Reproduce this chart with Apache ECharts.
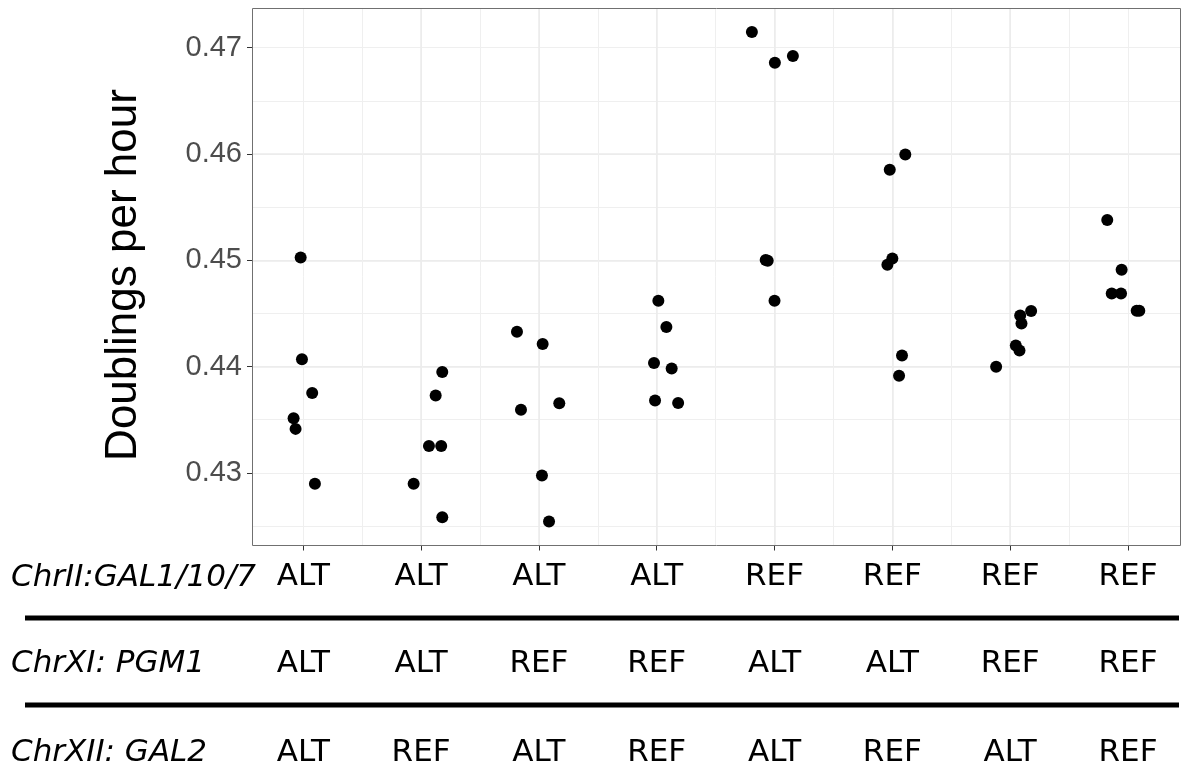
<!DOCTYPE html>
<html><head><meta charset="utf-8">
<script src="https://cdn.jsdelivr.net/npm/echarts@6/dist/echarts.min.js"></script>
<style>html,body{margin:0;padding:0;background:#fff;}#c{width:1182px;height:768px;}</style>
</head><body><div id="c"></div>
<script>
// ---- data ----
const groups = [1, 2, 3, 4, 5, 6, 7, 8];
const rowNames = ['ChrII:GAL1/10/7', 'ChrXI: PGM1', 'ChrXII: GAL2'];
const gal1 = ['ALT', 'ALT', 'ALT', 'ALT', 'REF', 'REF', 'REF', 'REF'];
const pgm1 = ['ALT', 'ALT', 'REF', 'REF', 'ALT', 'ALT', 'REF', 'REF'];
const gal2 = ['ALT', 'REF', 'ALT', 'REF', 'ALT', 'REF', 'ALT', 'REF'];
const yTicks = [0.43, 0.44, 0.45, 0.46, 0.47];
const yTitle = 'Doublings per hour';

const doublings = [
  [0.45026, 0.44068, 0.43752, 0.43513, 0.43414, 0.42897],
  [0.43949, 0.43727, 0.43254, 0.43254, 0.42897, 0.42583],
  [0.44328, 0.44212, 0.43654, 0.43595, 0.42975, 0.42542],
  [0.44620, 0.44372, 0.44034, 0.43983, 0.43682, 0.43658],
  [0.47148, 0.46859, 0.46922, 0.45002, 0.44995, 0.44619],
  [0.45994, 0.45851, 0.45017, 0.44958, 0.44105, 0.43914],
  [0.43999, 0.44199, 0.44152, 0.44481, 0.44406, 0.44523],
  [0.45378, 0.44911, 0.44688, 0.44688, 0.44525, 0.44525]
];
// horizontal jitter (in category units)
const jitterX = [
  [-0.022, -0.011, 0.076, -0.082, -0.065, 0.099],
  [0.180, 0.124, 0.067, 0.171, -0.063, 0.180],
  [-0.186, 0.032, 0.173, -0.152, 0.026, 0.086],
  [0.014, 0.082, -0.023, 0.127, -0.014, 0.182],
  [-0.192, 0.003, 0.156, -0.075, -0.058, 0.000],
  [0.110, -0.022, 0.000, -0.042, 0.082, 0.057],
  [-0.119, 0.048, 0.079, 0.085, 0.096, 0.178],
  [-0.176, -0.054, -0.138, -0.059, 0.074, 0.096]
];

// ---- build ----
const points = [];
groups.forEach((g, gi) => {
  doublings[gi].forEach((v, i) => points.push([g + jitterX[gi][i], v]));
});

const GL = 252, GT = 8, GW = 929, GH = 538;
const XMIN = 0.565, XMAX = 8.45, YMIN = 0.42317, YMAX = 0.47373;
const tableFont = 'DejaVu Sans';
const tableSize = 31;

const chart = echarts.init(document.getElementById('c'), null, {renderer: 'canvas'});
const option = {
  animation: false,
  backgroundColor: '#ffffff',
  grid: {left: GL, top: GT, width: GW, height: GH, show: false},
  xAxis: [
    {
      type: 'value', min: XMIN, max: XMAX, splitNumber: 16,
      axisLine: {show: false}, axisTick: {show: false}, axisLabel: {show: false},
      splitLine: {show: true, showMinLine: false, showMaxLine: false, lineStyle: {color: '#EFEFEF', width: 1}}
    },
    {
      type: 'value', min: XMIN, max: XMAX, splitNumber: 8, position: 'bottom',
      axisLine: {show: false},
      axisTick: {show: true, customValues: groups, length: 5, lineStyle: {color: '#333333', width: 1}},
      splitLine: {show: true, showMinLine: false, showMaxLine: false, lineStyle: {color: '#EBEBEB', width: 1.5}},
      axisLabel: {
        customValues: groups, margin: 11, color: '#000',
        formatter: function (v) {
          const i = Math.round(v) - 1;
          if (i < 0 || i > 7 || Math.abs(v - Math.round(v)) > 1e-6) return '';
          return '{a|' + gal1[i] + '}\n{b|' + pgm1[i] + '}\n{c|' + gal2[i] + '}';
        },
        rich: {
          a: {fontFamily: tableFont, fontSize: tableSize, color: '#000', lineHeight: 40},
          b: {fontFamily: tableFont, fontSize: tableSize, color: '#000', lineHeight: 135},
          c: {fontFamily: tableFont, fontSize: tableSize, color: '#000', lineHeight: 42}
        }
      }
    }
  ],
  yAxis: [
    {
      type: 'value', min: YMIN, max: YMAX, splitNumber: 10, position: 'left',
      axisLine: {show: false}, axisTick: {show: false}, axisLabel: {show: false},
      splitLine: {show: true, showMinLine: false, showMaxLine: false, lineStyle: {color: '#EFEFEF', width: 1}}
    },
    {
      type: 'value', min: YMIN, max: YMAX, splitNumber: 5, position: 'left',
      axisLine: {show: false},
      axisTick: {show: true, customValues: yTicks, length: 5, lineStyle: {color: '#333333', width: 1}},
      splitLine: {show: true, showMinLine: false, showMaxLine: false, lineStyle: {color: '#EBEBEB', width: 1.5}},
      axisLabel: {
        customValues: yTicks, margin: 10, color: '#4D4D4D',
        fontFamily: 'Liberation Sans', fontSize: 29,
        formatter: v => v.toFixed(2)
      }
    }
  ],
  series: [{
    type: 'scatter', xAxisIndex: 1, yAxisIndex: 1,
    data: points, symbol: 'circle', symbolSize: 12,
    itemStyle: {color: '#000000', opacity: 1}, z: 5
  }],
  graphic: [
    {type: 'rect', z: 50, silent: true, shape: {x: GL + 0.5, y: GT + 0.5, width: GW - 1, height: GH - 1},
     style: {fill: 'none', stroke: '#707070', lineWidth: 1}},
    {type: 'text', z: 50, x: 124, y: 275, rotation: Math.PI / 2,
     style: {text: yTitle, fontFamily: 'Liberation Sans', fontSize: 44, fill: '#000', align: 'center', verticalAlign: 'middle'}},
    {type: 'line', z: 50, shape: {x1: 25, y1: 618, x2: 1179, y2: 618}, style: {stroke: '#000', lineWidth: 5}},
    {type: 'line', z: 50, shape: {x1: 25, y1: 705, x2: 1179, y2: 705}, style: {stroke: '#000', lineWidth: 5}},
    {type: 'text', z: 50, x: 11, y: 578, style: {text: rowNames[0], fontFamily: tableFont, fontStyle: 'italic', fontSize: tableSize, fill: '#000', align: 'left', verticalAlign: 'middle'}},
    {type: 'text', z: 50, x: 11, y: 664, style: {text: rowNames[1], fontFamily: tableFont, fontStyle: 'italic', fontSize: tableSize, fill: '#000', align: 'left', verticalAlign: 'middle'}},
    {type: 'text', z: 50, x: 11, y: 752.5, style: {text: rowNames[2], fontFamily: tableFont, fontStyle: 'italic', fontSize: tableSize, fill: '#000', align: 'left', verticalAlign: 'middle'}}
  ]
};
chart.setOption(option);
</script>
</body></html>
